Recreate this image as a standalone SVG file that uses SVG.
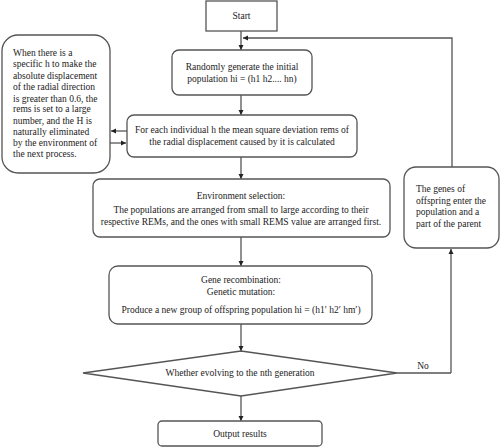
<svg xmlns="http://www.w3.org/2000/svg" width="500" height="447" viewBox="0 0 500 447">
<defs>
<marker id="ah" markerWidth="6" markerHeight="6" refX="5" refY="3" orient="auto" markerUnits="userSpaceOnUse">
<path d="M0,0.5 L5,3 L0,5.5 Z" fill="#222"/>
</marker>
<style>
.box{fill:#fff;stroke:#555;stroke-width:1.3}
.ln{fill:none;stroke:#555;stroke-width:1.3}
.arr{fill:none;stroke:#555;stroke-width:1.3;marker-end:url(#ah)}
text{font-family:"Liberation Serif","Times New Roman",serif;font-size:9.5px;fill:#222}
.c{text-anchor:middle}
</style>
</defs>
<rect width="500" height="447" fill="#fff"/>
<g id="connectors">
<path class="arr" d="M241,31 V50"/>
<path class="arr" d="M452,168 V38 H243"/>
<path class="arr" d="M241,95 V115"/>
<path class="arr" d="M127,131 H111"/>
<path class="arr" d="M110,143 H126"/>
<path class="arr" d="M241,157 V179"/>
<path class="arr" d="M241,237 V266"/>
<path class="arr" d="M241,324 V351"/>
<path class="ln" d="M397,373 H451"/>
<path class="arr" d="M451,373 V249"/>
<path class="arr" d="M241,396 V421"/>
<text x="423" y="369" class="c">No</text>
</g>
<g id="start">
<rect class="box" x="206" y="1" width="71" height="30"/>
<text x="241.5" y="19" class="c">Start</text>
</g>
<g id="init">
<rect class="box" x="172" y="50" width="140" height="45" rx="7"/>
<text x="242" y="70" class="c">Randomly generate the initial</text>
<text x="242" y="82" class="c">population hi = (h1 h2.... hn)</text>
</g>
<g id="note-left">
<rect class="box" x="2" y="35" width="108" height="138" rx="16"/>
<text x="13" y="56">When there is a</text>
<text x="13" y="67">specific h to make the</text>
<text x="13" y="78.5">absolute displacement</text>
<text x="13" y="90">of the radial direction</text>
<text x="13" y="101.5">is greater than 0.6, the</text>
<text x="13" y="112">rems is set to a large</text>
<text x="13" y="123.5">number, and the H is</text>
<text x="13" y="134.5">naturally eliminated</text>
<text x="13" y="146">by the environment of</text>
<text x="13" y="157">the next process.</text>
</g>
<g id="rems">
<rect class="box" x="127" y="115" width="230" height="42" rx="7"/>
<text x="242" y="133" class="c">For each individual h the mean square deviation rems of</text>
<text x="242" y="144.5" class="c">the radial displacement caused by it is calculated</text>
</g>
<g id="env">
<rect class="box" x="93" y="179" width="297" height="58" rx="7"/>
<text x="241" y="199" class="c">Environment selection:</text>
<text x="241" y="213" class="c">The populations are arranged from small to large according to their</text>
<text x="241" y="225" class="c">respective REMs, and the ones with small REMS value are arranged first.</text>
</g>
<g id="gene">
<rect class="box" x="109" y="266" width="263" height="58" rx="9"/>
<text x="241" y="283" class="c">Gene recombination:</text>
<text x="241" y="295" class="c">Genetic mutation:</text>
<text x="241" y="313" class="c">Produce a new group of offspring population hi = (h1′ h2′ hm′)</text>
</g>
<g id="offspring">
<rect class="box" x="404" y="167" width="95" height="81" rx="12"/>
<text x="416" y="192">The genes of</text>
<text x="416" y="203.5">offspring enter the</text>
<text x="416" y="215">population and a</text>
<text x="416" y="226.5">part of the parent</text>
</g>
<g id="decision">
<polygon class="box" points="241,351 397,373 241,396 83,373"/>
<text x="240" y="376" class="c">Whether evolving to the nth generation</text>
</g>
<g id="output">
<rect class="box" x="158" y="421" width="164" height="25" rx="4"/>
<text x="240" y="436.5" class="c">Output results</text>
</g>
</svg>
